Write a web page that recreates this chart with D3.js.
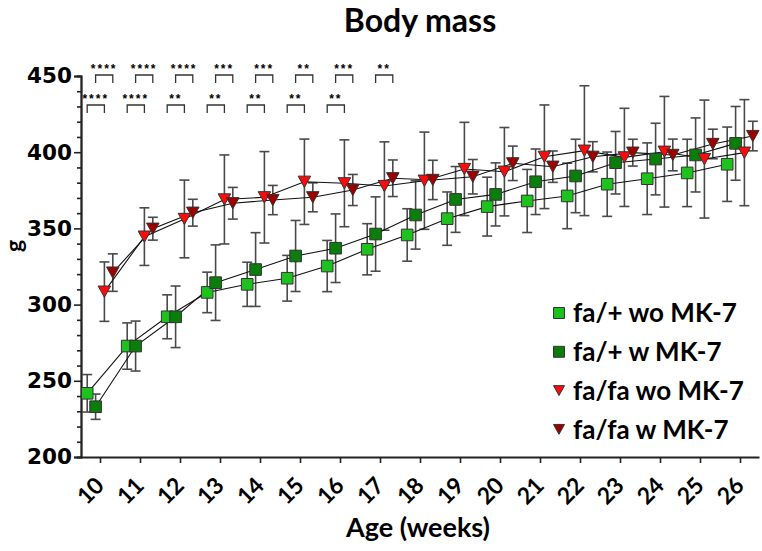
<!DOCTYPE html>
<html>
<head>
<meta charset="utf-8">
<script src="https://cdn.jsdelivr.net/npm/d3@7"></script>
<style>
  body { margin: 0; background: #fff; }
  text { font-family: Lato, "Open Sans", sans-serif; font-weight: bold; }
</style>
</head>
<body>
<svg id="chart" width="762" height="551"></svg>
<script>
const weeks = [10, 11, 12, 13, 14, 15, 16, 17, 18, 19, 20, 21, 22, 23, 24, 25, 26];

const hetWoMean = [241.8, 272.8, 292, 308, 313.3, 317.3, 325.3, 336.3, 345.7, 356.4, 364.3, 368, 371.3, 379, 382.6, 386.4, 392.1];
const hetWoSd   = [12.3, 15.2, 14.4, 13.3, 14.5, 15, 16.8, 16.8, 17.2, 17.5, 19.3, 20.7, 21.5, 21.1, 23.5, 22.1, 24.4];

const hetWMean = [233, 272.8, 292, 314.4, 323, 331.9, 337, 346.3, 358.8, 369, 372.3, 380.6, 384.4, 393.1, 395.5, 398.2, 405.8];
const hetWSd   = [8.3, 16.4, 20.2, 24.8, 24.2, 23.3, 22.5, 24.4, 22.4, 21.6, 20.7, 21.5, 24.1, 20.5, 23.5, 24.3, 24.2];

const obWoMean = [308.5, 344.6, 356.2, 369, 370.4, 380.6, 379.6, 377.8, 381.3, 389, 387.2, 397, 401, 396.6, 400.3, 395.5, 399.7];
const obWoSd   = [19.5, 18.9, 25.5, 29.2, 30, 28, 28.5, 29, 31.9, 30.6, 29, 34, 42.6, 32.2, 36.3, 38.7, 34.8];

const obWMean = [321, 349.8, 360.3, 366.5, 368.6, 370.4, 375.2, 382.9, 381.8, 383.9, 392.7, 390.5, 397, 399.7, 398.2, 405.4, 410.6];
const obWSd   = [12.3, 7.5, 8.8, 10.4, 9.6, 9.5, 10.2, 12, 12.9, 11.3, 11.3, 10.3, 9.9, 8.8, 10.4, 9.7, 9.7];

const seriesNames = ["fa/+ wo MK-7", "fa/+ w MK-7", "fa/fa wo MK-7", "fa/fa w MK-7"];
const seriesColours = ["#1ec21e", "#0b7d0b", "#ff0a0a", "#9e0000"];
const seriesShapes = ["square", "square", "triangle", "triangle"];
const seriesOffsets = [-0.32, -0.11, 0.11, 0.32];

// significance: fa/+ w vs fa/fa w (upper row), fa/+ wo vs fa/fa wo (lower row)
const sigWeeksW = [10, 11, 12, 13, 14, 15, 16, 17];
const sigStarsW = ["****", "****", "****", "***", "***", "**", "***", "**"];
const sigWeeksWo = [10, 11, 12, 13, 14, 15, 16];
const sigStarsWo = ["****", "****", "**", "**", "**", "**", "**"];

const yTicks = [200, 250, 300, 350, 400, 450];

const svg = d3.select("#chart");

const x = d3.scaleLinear().domain([9.525, 26.475]).range([81, 759]);
const y = d3.scaleLinear().domain([200, 450]).range([457, 76]);

const series = [
  { mean: hetWoMean, sd: hetWoSd },
  { mean: hetWMean, sd: hetWSd },
  { mean: obWoMean, sd: obWoSd },
  { mean: obWMean, sd: obWSd }
].map((s, i) => ({
  ...s,
  name: seriesNames[i],
  colour: seriesColours[i],
  shape: seriesShapes[i],
  offset: seriesOffsets[i],
  points: weeks.map((w, j) => ({ w: w + seriesOffsets[i], m: s.mean[j], sd: s.sd[j] }))
}));

const squareSym = d3.symbol().type(d3.symbolSquare).size(135);
const triPath = (s) => {
  const h = s * 0.9;
  return `M${-s / 2},${-h / 2}L${s / 2},${-h / 2}L0,${h / 2}Z`;
};
const markerPath = (shape) => shape === "square" ? squareSym() : triPath(12.5);

// axes
const yAxis = d3.axisLeft(y).tickValues(yTicks).tickSize(7).tickFormat(d3.format("d"));
const yMinor = d3.axisLeft(y).tickValues(d3.range(200, 451, 10).filter(v => v % 50)).tickSize(4).tickFormat("");

const gy = svg.append("g").attr("transform", "translate(81,0)");
gy.call(yAxis);
gy.append("g").call(yMinor);
gy.selectAll("path.domain").attr("stroke", "#222").attr("stroke-width", 1.8);
gy.selectAll(".tick line").attr("stroke", "#222").attr("stroke-width", 1.6);
gy.selectAll(".tick text")
  .attr("x", -9)
  .style("font-family", "'DejaVu Sans'")
  .style("font-weight", "bold")
  .style("font-size", "21.5px")
  .attr("fill", "#000");

const xAxis = d3.axisBottom(x).tickValues(weeks).tickSize(6).tickFormat(d3.format("d")).tickSizeOuter(0);
const gx = svg.append("g").attr("transform", "translate(0,457)");
gx.call(xAxis);
gx.selectAll("path.domain").attr("stroke", "#222").attr("stroke-width", 1.8);
gx.selectAll(".tick line").attr("stroke", "#222").attr("stroke-width", 1.6);
gx.selectAll(".tick text")
  .attr("text-anchor", "end")
  .attr("transform", "translate(5,30) rotate(-45)")
  .attr("y", 0)
  .attr("dy", 0)
  .style("font-size", "23px")
  .attr("fill", "#000");

// error bars
const eb = svg.append("g");
series.forEach(s => {
  const g = eb.append("g");
  g.selectAll("line.v").data(s.points).join("line")
    .attr("x1", d => x(d.w)).attr("x2", d => x(d.w))
    .attr("y1", d => y(d.m + d.sd)).attr("y2", d => y(d.m - d.sd))
    .attr("stroke", "#4a4a4a").attr("stroke-width", 1.6);
  [1, -1].forEach(sign => {
    g.selectAll(null).data(s.points).join("line")
      .attr("x1", d => x(d.w) - 5).attr("x2", d => x(d.w) + 5)
      .attr("y1", d => y(d.m + sign * d.sd)).attr("y2", d => y(d.m + sign * d.sd))
      .attr("stroke", "#4a4a4a").attr("stroke-width", 1.6);
  });
});

// connecting lines
const line = d3.line().x(d => x(d.w)).y(d => y(d.m));
series.forEach(s => {
  svg.append("path").datum(s.points)
    .attr("d", line)
    .attr("fill", "none")
    .attr("stroke", "#111")
    .attr("stroke-width", 1.1);
});

// markers
series.forEach(s => {
  svg.append("g").selectAll("path").data(s.points).join("path")
    .attr("d", markerPath(s.shape))
    .attr("transform", d => `translate(${x(d.w)},${y(d.m)})`)
    .attr("fill", s.colour)
    .attr("stroke", "#333")
    .attr("stroke-width", 1);
});

// significance brackets
const drawSig = (wks, stars, offA, offB, yTop, yStar) => {
  const g = svg.append("g");
  wks.forEach((w, i) => {
    const x1 = x(w + offA), x2 = x(w + offB);
    g.append("path")
      .attr("d", `M${x1},${yTop + 8}V${yTop}H${x2}V${yTop + 8}`)
      .attr("fill", "none").attr("stroke", "#333").attr("stroke-width", 1.3);
    g.append("text")
      .attr("x", (x1 + x2) / 2).attr("y", yStar)
      .attr("text-anchor", "middle")
      .attr("fill", "#000")
      .style("font-family", "'Liberation Sans'")
      .style("font-weight", "bold")
      .style("font-size", "12px")
      .style("letter-spacing", "2px")
      .text(stars[i]);
  });
};
drawSig(sigWeeksW, sigStarsW, seriesOffsets[1], seriesOffsets[3], 75, 73);
drawSig(sigWeeksWo, sigStarsWo, seriesOffsets[0], seriesOffsets[2], 105, 103);

// titles
svg.append("text").attr("x", 420).attr("y", 32).attr("text-anchor", "middle")
  .style("font-size", "32px").text("Body mass");
svg.append("text").attr("x", 418).attr("y", 537).attr("text-anchor", "middle")
  .style("font-size", "27px").text("Age (weeks)");
svg.append("text").attr("transform", "translate(22,246) rotate(-90)").attr("text-anchor", "middle")
  .style("font-size", "23px").text("g");

// legend
const legend = svg.append("g");
series.forEach((s, i) => {
  const cy = 313 + i * 38.8;
  legend.append("path")
    .attr("d", s.shape === "square" ? d3.symbol().type(d3.symbolSquare).size(120)() : triPath(11))
    .attr("transform", `translate(559,${cy})`)
    .attr("fill", s.colour).attr("stroke", "#333").attr("stroke-width", 1);
  legend.append("text").attr("x", 573).attr("y", cy).attr("dy", "0.36em")
    .style("font-size", "26px").text(s.name);
});
</script>
</body>
</html>
